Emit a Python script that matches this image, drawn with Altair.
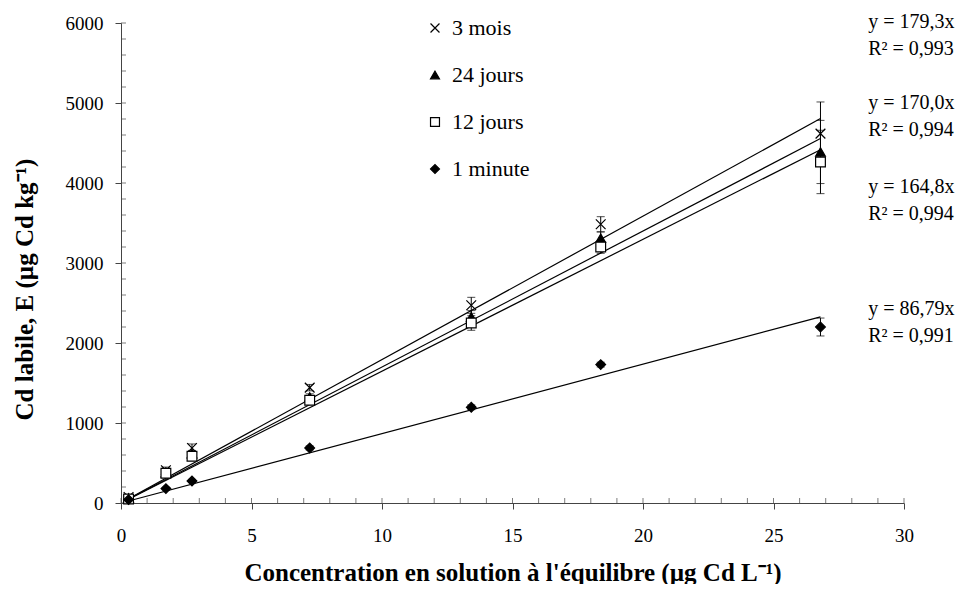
import altair as alt
import pandas as pd

# ---- data ----
x_vals = [0.29, 1.72, 2.72, 7.23, 13.42, 18.38, 26.8]
series = ["3 mois", "24 jours", "12 jours", "1 minute"]
y_3mois = [75, 409, 688, 1442, 2471, 3484, 4617]
y_24jours = [62, 380, 617, 1325, 2325, 3309, 4388]
y_12jours = [50, 371, 584, 1284, 2250, 3200, 4263]
y_1minute = [42, 180, 275, 688, 1196, 1730, 2200]
err_3mois = [30, 40, 50, 40, 100, 95, 396]
err_24jours = [20, 30, 40, 40, 80, 80, 395]
err_12jours = [20, 30, 40, 40, 91, 79, 396]
err_1minute = [10, 15, 20, 25, 30, 30, 112]
slopes = [179.3, 170.0, 164.8, 86.79]
eq_text = ["y = 179,3x", "y = 170,0x", "y = 164,8x", "y = 86,79x"]
r2_text = ["R² = 0,993", "R² = 0,994", "R² = 0,994", "R² = 0,991"]
eq_anchor_x = 28.63
eq_anchor_y = [6010, 4996, 3946, 2421]
x_major = [0, 5, 10, 15, 20, 25, 30]
x_minor = list(range(0, 31))
y_major = [0, 1000, 2000, 3000, 4000, 5000, 6000]
y_minor = list(range(0, 6001, 200))

FONT = "Liberation Serif"
W, H = 783, 480

ys = [y_3mois, y_24jours, y_12jours, y_1minute]
es = [err_3mois, err_24jours, err_12jours, err_1minute]
rows = []
for s, yv, ev in zip(series, ys, es):
    for x, y, e in zip(x_vals, yv, ev):
        rows.append({"serie": s, "x": x, "y": y, "lo": y - e, "hi": y + e})
pts = pd.DataFrame(rows)

line_rows = []
for s, k in zip(series, slopes):
    for x in (x_vals[0], x_vals[-1]):
        line_rows.append({"serie": s, "x": x, "slope": k})
lines = pd.DataFrame(line_rows)

eqs = pd.DataFrame({"serie": series, "eq": eq_text, "r2": r2_text,
                    "xa": [eq_anchor_x] * 4, "ya": eq_anchor_y})

xs = alt.Scale(domain=[0, 30], nice=False)
ysc = alt.Scale(domain=[0, 6000], nice=False)

axis_common = dict(
    labelFont=FONT, labelFontSize=19, labelColor="black",
    titleFont=FONT, titleFontSize=25, titleFontWeight="bold", titleColor="black",
    domainColor="#444", tickColor="#444", tickSize=6, grid=False,
)

x_enc = alt.X("x:Q", scale=xs, axis=alt.Axis(
    values=x_major, title="Concentration en solution à l'équilibre (µg Cd L⁻¹)",
    labelPadding=17, titlePadding=15, **axis_common))
y_enc = alt.Y("y:Q", scale=ysc, axis=alt.Axis(
    values=y_major, format="d", title="Cd labile, E  (µg Cd kg⁻¹)",
    labelPadding=12, titlePadding=28, titleY=266, **axis_common))

shape_scale = alt.Scale(domain=series, range=["M-1,-1L1,1M-1,1L1,-1", "triangle-up", "square", "diamond"])
fill_scale = alt.Scale(domain=series, range=["black", "black", "white", "black"])
stroke_scale = alt.Scale(domain=series, range=["black", "black", "black", "black"])
leg = dict(title=None, orient="none", legendX=303, legendY=-6, labelFont=FONT,
           labelFontSize=22, labelColor="black", rowPadding=25, symbolSize=80,
           symbolStrokeColor="black", symbolStrokeWidth=1.2, labelOffset=6)

base_pts = alt.Chart(pts)

errs = base_pts.mark_rule(color="black", strokeWidth=1).encode(
    x=alt.X("x:Q", scale=xs), y=alt.Y("lo:Q", scale=ysc), y2="hi:Q")
caps_hi = base_pts.mark_tick(orient="horizontal", color="black", size=8, thickness=1).encode(
    x=alt.X("x:Q", scale=xs), y=alt.Y("hi:Q", scale=ysc))
caps_lo = base_pts.mark_tick(orient="horizontal", color="black", size=8, thickness=1).encode(
    x=alt.X("x:Q", scale=xs), y=alt.Y("lo:Q", scale=ysc))

fits = alt.Chart(lines).transform_calculate(fit="datum.slope * datum.x").mark_line(
    color="black", strokeWidth=1.2).encode(
    x=alt.X("x:Q", scale=xs), y=alt.Y("fit:Q", scale=ysc), detail="serie:N")

points = base_pts.mark_point(filled=False, opacity=1, strokeWidth=1.2, size=95).encode(
    x=x_enc, y=y_enc,
    shape=alt.Shape("serie:N", scale=shape_scale, legend=alt.Legend(**leg)),
    fill=alt.Fill("serie:N", scale=fill_scale, legend=alt.Legend(**leg)),
    stroke=alt.Stroke("serie:N", scale=stroke_scale, legend=alt.Legend(**leg)),
)

eq_lines = alt.Chart(eqs).mark_text(align="left", baseline="middle", font=FONT, fontSize=20,
                                    color="black").encode(
    x=alt.X("xa:Q", scale=xs), y=alt.Y("ya:Q", scale=ysc), text="eq:N")
r2_lines = alt.Chart(eqs).mark_text(align="left", baseline="middle", font=FONT, fontSize=20,
                                    color="black", dy=27).encode(
    x=alt.X("xa:Q", scale=xs), y=alt.Y("ya:Q", scale=ysc), text="r2:N")

xticks_in = alt.Chart(pd.DataFrame({"t": x_minor})).mark_tick(
    orient="vertical", color="#444", size=5, thickness=1).encode(
    x=alt.X("t:Q", scale=xs), y=alt.value(H - 2.5))
yticks_in = alt.Chart(pd.DataFrame({"t": y_minor})).mark_tick(
    orient="horizontal", color="#444", size=5, thickness=1).encode(
    y=alt.Y("t:Q", scale=ysc), x=alt.value(2.5))

chart = alt.layer(
    xticks_in, yticks_in, fits, errs, caps_hi, caps_lo, points, eq_lines, r2_lines
).properties(
    width=W, height=H,
    autosize=alt.AutoSizeParams(type="none"),
    padding={"left": 113, "top": 15, "right": 51, "bottom": 81},
).configure_view(stroke=None).configure_axis(labelFlush=False)

chart.save("out.html", embed_options={"renderer": "svg", "actions": False})
